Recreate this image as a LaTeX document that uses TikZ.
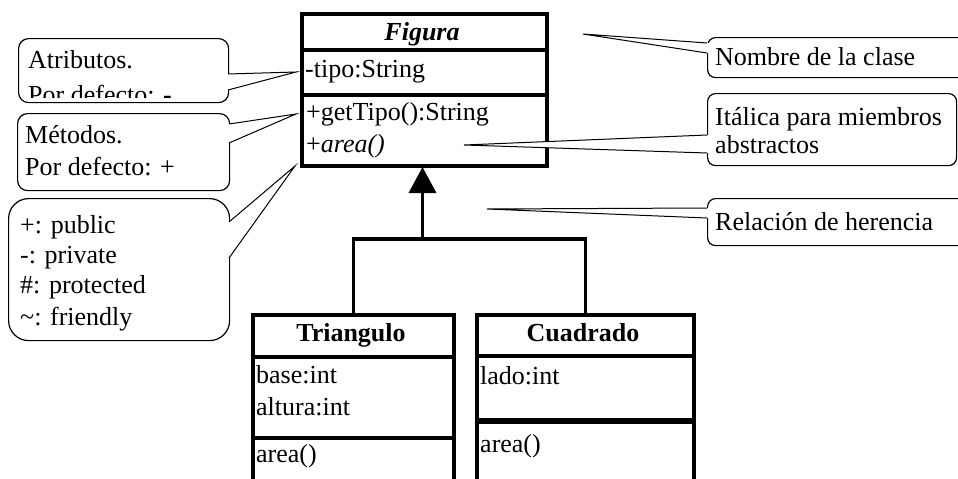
\documentclass[tikz,border=0pt]{standalone}
\usepackage{fontspec}
\setmainfont{Liberation Serif}
\usetikzlibrary{arrows.meta,calc}

\tikzset{
  txt/.style={anchor=base west, inner sep=0pt, font=\fontsize{26}{31}\selectfont},
  ctxt/.style={anchor=base, inner sep=0pt, font=\fontsize{26}{31}\selectfont},
  compart/.style={draw, line width=3.5pt, anchor=north west, inner sep=0pt},
  callout/.style={draw, fill=white, line width=1.2pt, anchor=north west, inner sep=0pt},
  pointer/.style={line width=1pt, line join=miter},
  inh/.style={line width=3.5pt}
}

\begin{document}
\begin{tikzpicture}[x=1pt,y=-1pt]
\useasboundingbox (0,0) rectangle (958,479);

% ---------- class Figura ----------
\node[compart, minimum width=245pt, minimum height=36pt] (figname) at (300,12) {};
\node[compart, minimum width=245pt, minimum height=45pt] (figattr) at (300,48) {};
\node[compart, minimum width=245pt, minimum height=71pt] (figops)  at (300,93) {};
\node[ctxt] (figt) at (422,40) {\textbf{\textit{Figura}}};
\node[txt] (figa) at (305,77) {-tipo:String};
\node[txt] (figm1) at (306,120) {+getTipo():String};
\node[txt] (figm2) at (306,152) {+\textit{area()}};

% ---------- class Triangulo ----------
\node[compart, minimum width=201pt, minimum height=42pt] (triname) at (251,313) {};
\node[compart, minimum width=201pt, minimum height=81pt] (triattr) at (251,355) {};
\node[compart, minimum width=201pt, minimum height=80pt] (triops)  at (251,436) {};
\node[ctxt] (trit) at (351,341) {\textbf{Triangulo}};
\node[txt] (tria1) at (256,383) {base:int};
\node[txt] (tria2) at (256,415) {altura:int};
\node[txt] (trim) at (256,462) {area()};

% ---------- class Cuadrado ----------
\node[compart, minimum width=217pt, minimum height=41pt] (cuaname) at (475,313) {};
\node[compart, minimum width=217pt, minimum height=66pt] (cuaattr) at (475,354) {};
\node[compart, minimum width=217pt, minimum height=96pt] (cuaops)  at (475,420) {};
\draw[line width=4.5pt] (cuaops.north west) -- (cuaops.north east);
\node[ctxt] (cuat) at (583,341) {\textbf{Cuadrado}};
\node[txt] (cuaa) at (480,384) {lado:int};
\node[txt] (cuam) at (480,452) {area()};

% ---------- inheritance ----------
\coordinate (join) at (422.5,239);
\coordinate (head) at (422.5,167);
\draw[inh] (triname.north) |- (join) -| (cuaname.north);
\draw[inh, -{Triangle[width=27pt,length=26pt]}] (join) -- (head);

% ---------- notes on the left ----------
% attributes note (its second line is cut by the frame)
\node[callout, rounded corners=10pt, minimum width=210pt, minimum height=64pt] (natr) at (18,38) {};
\begin{scope}
  \clip (19,39) rectangle (227,97);
  \node[txt] (natr1) at (28,68) {Atributos.};
  \node[txt] (natr2) at (28,103) {Por defecto: \textbf{-}};
\end{scope}
\coordinate (atrA) at (228,74);
\coordinate (atrB) at (228,90);
\coordinate (atrT) at (296,72);
\fill[white] ($(atrA)+(-2,0)$) -- (atrA) -- (atrT) -- (atrB) -- ($(atrB)+(-2,0)$) -- cycle;
\draw[pointer] (atrA) -- (atrT) -- (atrB);

% methods note
\node[callout, rounded corners=10pt, minimum width=212pt, minimum height=77pt] (nmet) at (17,113) {};
\node[txt] (nmet1) at (25,143) {Métodos.};
\node[txt] (nmet2) at (25,175) {Por defecto: +};
\coordinate (metA) at (229,124);
\coordinate (metB) at (229,143);
\coordinate (metT) at (296,114);
\fill[white] ($(metA)+(-2,0)$) -- (metA) -- (metT) -- (metB) -- ($(metB)+(-2,0)$) -- cycle;
\draw[pointer] (metA) -- (metT) -- (metB);

% visibility note
\node[callout, rounded corners=20pt, minimum width=221pt, minimum height=142pt] (nvis) at (8,198) {};
\node[txt] (nvis1) at (20,233) {+: public};
\node[txt] (nvis2) at (20,263) {-: private};
\node[txt] (nvis3) at (20,293) {\#: protected};
\node[txt] (nvis4) at (20,325) {\textasciitilde: friendly};
\coordinate (visA) at (229,222);
\coordinate (visB) at (229,258);
\coordinate (visT) at (295,166);
\fill[white] ($(visA)+(-2,0)$) -- (visA) -- (visT) -- (visB) -- ($(visB)+(-2,0)$) -- cycle;
\draw[pointer] (visA) -- (visT) -- (visB);

% ---------- notes on the right ----------
\node[callout, rounded corners=8pt, minimum width=280pt, minimum height=40pt] (nnom) at (707,37) {};
\node[txt] (nnom1) at (715,65) {Nombre de la clase};
\coordinate (nomA) at (707,43);
\coordinate (nomB) at (707,53);
\coordinate (nomT) at (583,34);
\fill[white] ($(nomA)+(2,0)$) -- (nomA) -- (nomT) -- (nomB) -- ($(nomB)+(2,0)$) -- cycle;
\draw[pointer] (nomA) -- (nomT) -- (nomB);

\node[callout, rounded corners=8pt, minimum width=249pt, minimum height=72pt] (nita) at (707,93) {};
\node[txt] (nita1) at (715,125) {Itálica para miembros};
\node[txt] (nita2) at (715,153) {abstractos};
\coordinate (itaA) at (707,135);
\coordinate (itaB) at (707,153);
\coordinate (itaT) at (464,145);
\fill[white] ($(itaA)+(2,0)$) -- (itaA) -- (itaT) -- (itaB) -- ($(itaB)+(2,0)$) -- cycle;
\draw[pointer] (itaA) -- (itaT) -- (itaB);

\node[callout, rounded corners=8pt, minimum width=280pt, minimum height=47pt] (nrel) at (707,198) {};
\node[txt] (nrel1) at (715,230) {Relación de herencia};
\coordinate (relA) at (707,208);
\coordinate (relB) at (707,218);
\coordinate (relT) at (487,209);
\fill[white] ($(relA)+(2,0)$) -- (relA) -- (relT) -- (relB) -- ($(relB)+(2,0)$) -- cycle;
\draw[pointer] (relA) -- (relT) -- (relB);

\end{tikzpicture}
\end{document}
